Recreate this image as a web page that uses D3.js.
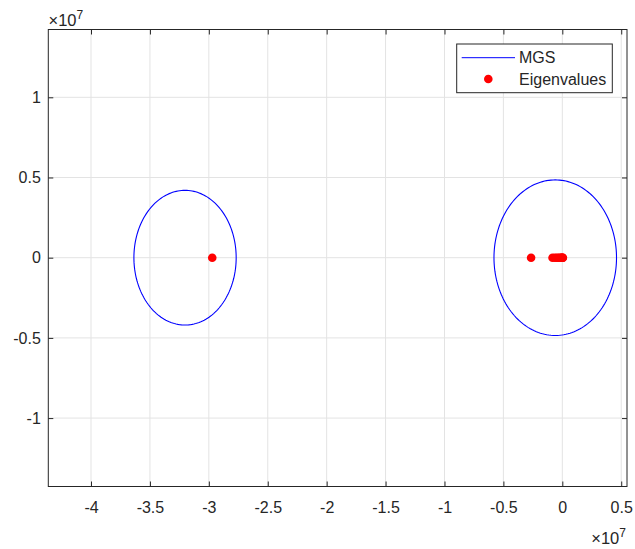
<!DOCTYPE html>
<html>
<head>
<meta charset="utf-8">
<script src="https://cdn.jsdelivr.net/npm/d3@7"></script>
<style>
  body { margin: 0; background: #fff; }
  svg text { font-family: "Liberation Sans", Arial, Helvetica, sans-serif; fill: #262626; }
</style>
</head>
<body>
<svg id="chart" width="635" height="549"></svg>
<script>
// ---- data (units of 1e7) ----
const xTicks = [-4, -3.5, -3, -2.5, -2, -1.5, -1, -0.5, 0, 0.5];
const yTicks = [-1, -0.5, 0, 0.5, 1];
const xTickLabels = ["-4", "-3.5", "-3", "-2.5", "-2", "-1.5", "-1", "-0.5", "0", "0.5"];
const yTickLabels = ["-1", "-0.5", "0", "0.5", "1"];
// MGS regions: centre (cx, cy) and half-widths (rx, ry)
const regionCx = [-3.202, -0.060];
const regionCy = [0, 0];
const regionRx = [0.434, 0.520];
const regionRy = [0.420, 0.485];
// Eigenvalues (real parts; imaginary parts are 0)
const eigRe = [-2.971, -0.265, -0.083, -0.062, -0.045, -0.030, -0.018, -0.008, -0.002, 0.002, 0.005];
const eigIm = [0, 0, 0, 0, 0, 0, 0, 0, 0, 0, 0];
const legendLabels = ["MGS", "Eigenvalues"];

// ---- layout ----
const svg = d3.select("#chart");
const L = 48.3, R = 627, T = 29.5, B = 486.5;
const x = d3.scaleLinear().domain([-4.3625, 0.549]).range([L, R]);
const y = d3.scaleLinear().domain([-1.4265, 1.4227]).range([B, T]);
const axisColor = "#262626";
const gridColor = "#e3e3e3";
const fs = 16;

// grid
const grid = svg.append("g");
xTicks.forEach(t => grid.append("line")
  .attr("x1", x(t)).attr("x2", x(t)).attr("y1", T).attr("y2", B)
  .attr("stroke", gridColor).attr("stroke-width", 1));
yTicks.forEach(t => grid.append("line")
  .attr("x1", L).attr("x2", R).attr("y1", y(t)).attr("y2", y(t))
  .attr("stroke", gridColor).attr("stroke-width", 1));

// MGS curves
const line = d3.line().x(d => x(d[0])).y(d => y(d[1]));
const nSeg = 180;
regionCx.forEach((cx, i) => {
  const pts = d3.range(nSeg + 1).map(k => {
    const a = 2 * Math.PI * k / nSeg;
    return [cx + regionRx[i] * Math.cos(a), regionCy[i] + regionRy[i] * Math.sin(a)];
  });
  svg.append("path").attr("d", line(pts))
    .attr("fill", "none").attr("stroke", "#0000ff").attr("stroke-width", 1.1);
});

// eigenvalues
svg.append("g").selectAll("circle").data(eigRe).join("circle")
  .attr("cx", d => x(d)).attr("cy", (d, i) => y(eigIm[i]))
  .attr("r", 4.3).attr("fill", "#ff0000");

// axes box
svg.append("rect").attr("x", L).attr("y", T).attr("width", R - L).attr("height", B - T)
  .attr("fill", "none").attr("stroke", axisColor).attr("stroke-width", 1);

// axes via d3
const xAxis = d3.axisBottom(x).tickValues(xTicks).tickFormat((d, i) => xTickLabels[i])
  .tickSizeInner(-5).tickSizeOuter(0).tickPadding(15.5);
const gx = svg.append("g").attr("transform", `translate(0,${B})`).call(xAxis);
const yAxis = d3.axisLeft(y).tickValues(yTicks).tickFormat((d, i) => yTickLabels[i])
  .tickSizeInner(-5).tickSizeOuter(0).tickPadding(7.5);
const gy = svg.append("g").attr("transform", `translate(${L},0)`).call(yAxis);
const gxt = svg.append("g").attr("transform", `translate(0,${T})`)
  .call(d3.axisTop(x).tickValues(xTicks).tickFormat("").tickSizeInner(-5).tickSizeOuter(0));
const gyr = svg.append("g").attr("transform", `translate(${R},0)`)
  .call(d3.axisRight(y).tickValues(yTicks).tickFormat("").tickSizeInner(-5).tickSizeOuter(0));
[gx, gy, gxt, gyr].forEach(g => {
  g.select(".domain").remove();
  g.selectAll(".tick line").attr("stroke", axisColor);
  g.selectAll(".tick text").attr("font-size", fs)
    .attr("font-family", '"Liberation Sans", Arial, sans-serif').attr("fill", axisColor);
});

// exponent labels
function expLabel(xx, yy, anchor) {
  const t = svg.append("text").attr("x", xx).attr("y", yy).attr("font-size", 16.5)
    .attr("text-anchor", anchor);
  t.append("tspan").text("\u00d710");
  t.append("tspan").attr("dy", -7).attr("font-size", 12).text("7");
}
expLabel(48.5, 26, "start");
expLabel(626, 543.5, "end");

// legend
const lg = svg.append("g");
lg.append("rect").attr("x", 456.7).attr("y", 44).attr("width", 155.6).attr("height", 48.7)
  .attr("fill", "#fff").attr("stroke", axisColor).attr("stroke-width", 1);
lg.append("line").attr("x1", 461.7).attr("x2", 515).attr("y1", 57.7).attr("y2", 57.7)
  .attr("stroke", "#0000ff").attr("stroke-width", 1);
lg.append("circle").attr("cx", 488.3).attr("cy", 79).attr("r", 4.3).attr("fill", "#ff0000");
lg.append("text").attr("x", 519).attr("y", 57.7).attr("dy", "0.35em").attr("font-size", fs)
  .text(legendLabels[0]);
lg.append("text").attr("x", 519).attr("y", 79).attr("dy", "0.35em").attr("font-size", fs)
  .text(legendLabels[1]);
</script>
</body>
</html>
